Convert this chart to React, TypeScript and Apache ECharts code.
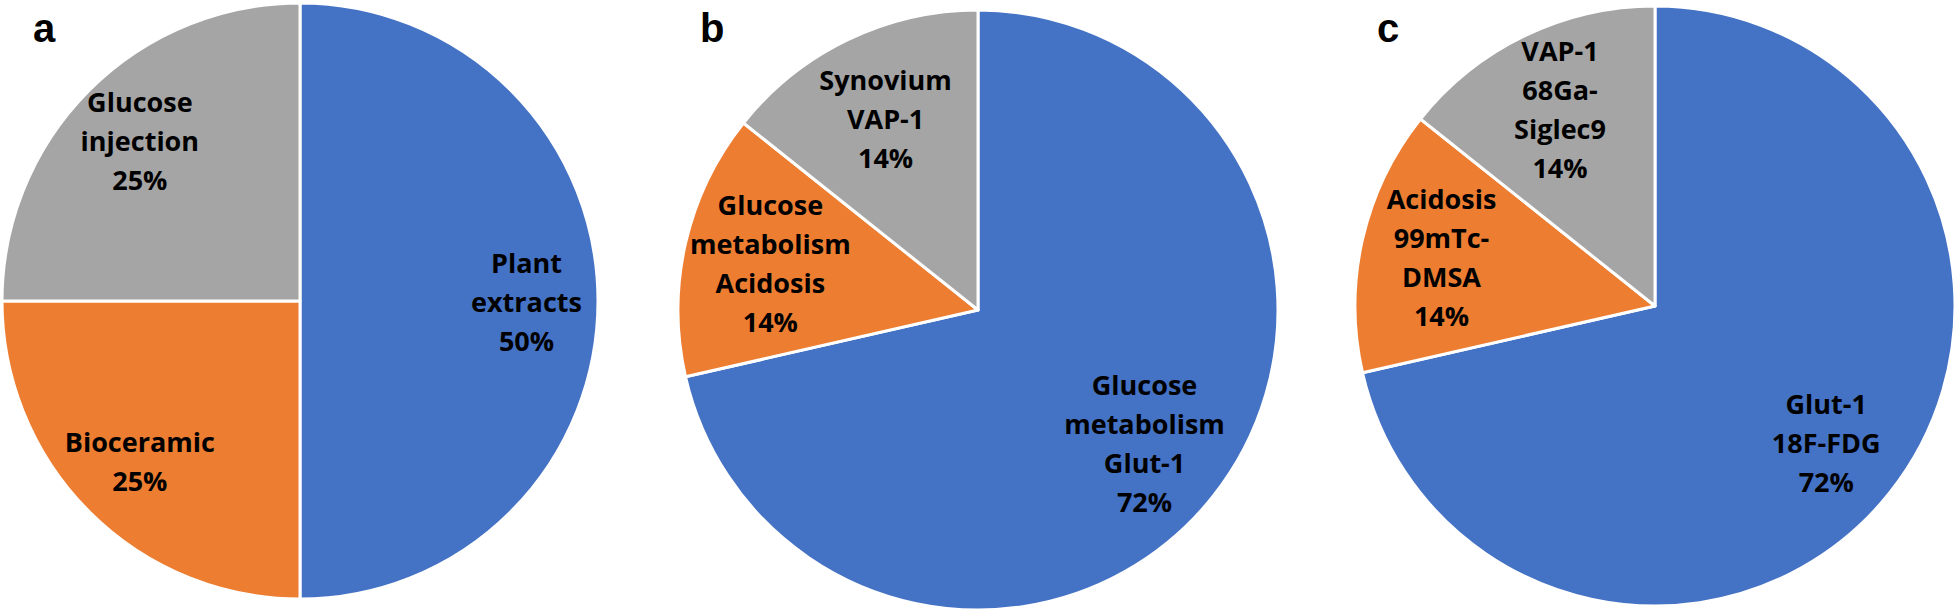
import React, { useEffect, useRef } from "react";
import * as echarts from "echarts";

const COLORS = ["#4472C4", "#ED7D31", "#A5A5A5"];

// Panel a
const aNames = ["Plant\nextracts", "Bioceramic", "Glucose\ninjection"];
const aValues = [50, 25, 25];
const aPct = ["50%", "25%", "25%"];

// Panel b
const bNames = ["Glucose\nmetabolism\nGlut-1", "Glucose\nmetabolism\nAcidosis", "Synovium\nVAP-1"];
const bValues = [5, 1, 1];
const bPct = ["72%", "14%", "14%"];

// Panel c
const cNames = ["Glut-1\n18F-FDG", "Acidosis\n99mTc-\nDMSA", "VAP-1\n68Ga-\nSiglec9"];
const cValues = [5, 1, 1];
const cPct = ["72%", "14%", "14%"];

const panelLetters = ["a", "b", "c"];

const LABEL_FONT = "'Open Sans', 'Noto Sans', sans-serif";

function makePanel(
  names: string[],
  values: number[],
  pct: string[],
  center: [number, number],
  r: number,
  innerRatio: number
) {
  const data = values.map((v, i) => ({
    name: names[i],
    value: v,
    itemStyle: { color: COLORS[i] },
  }));
  const base = {
    type: "pie",
    center,
    startAngle: 90,
    clockwise: true,
    avoidLabelOverlap: false,
    silent: true,
    labelLine: { show: false },
  };
  return [
    {
      ...base,
      radius: [0, r],
      data,
      itemStyle: { borderColor: "#ffffff", borderWidth: 3 },
      label: { show: false },
    },
    {
      ...base,
      radius: [r * innerRatio, r],
      data: data.map((d) => ({ ...d, itemStyle: { color: "rgba(0,0,0,0)" } })),
      itemStyle: { borderWidth: 0 },
      label: {
        show: true,
        position: "inside",
        formatter: (p: any) => names[p.dataIndex] + "\n" + pct[p.dataIndex],
        color: "#000000",
        fontFamily: LABEL_FONT,
        fontWeight: "bold",
        fontSize: 27,
        lineHeight: 39,
        align: "center",
      },
    },
  ];
}

export default function App() {
  const ref = useRef<HTMLDivElement>(null);
  useEffect(() => {
    if (!ref.current) return;
    const chart = echarts.init(ref.current, null, { renderer: "svg" });
    const letterX = [33, 700, 1377];
    chart.setOption({
      animation: false,
      backgroundColor: "#ffffff",
      series: [
        ...makePanel(aNames, aValues, aPct, [300, 301], 298, 0.5),
        ...makePanel(bNames, bValues, bPct, [978, 310], 300, 0.4),
        ...makePanel(cNames, cValues, cPct, [1655, 306], 300, 0.44),
      ],
      graphic: panelLetters.map((t, i) => ({
        type: "text",
        left: letterX[i],
        top: 8,
        silent: true,
        style: {
          text: t,
          fill: "#000000",
          font: "bold 40px 'Liberation Sans', Arial, sans-serif",
        },
      })),
    });
    return () => chart.dispose();
  }, []);
  return (
    <div
      ref={ref}
      style={{ position: "fixed", left: 0, top: 0, width: 1957, height: 610 }}
    />
  );
}
